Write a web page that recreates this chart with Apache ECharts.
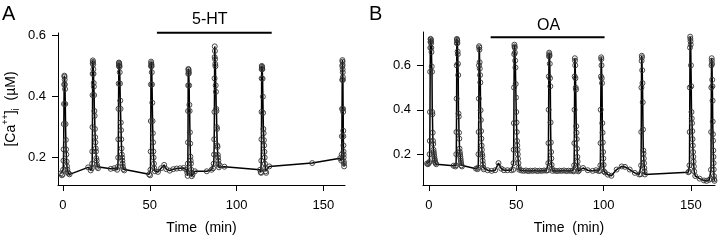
<!DOCTYPE html>
<html>
<head>
<meta charset="utf-8">
<script src="https://cdn.jsdelivr.net/npm/echarts@6/dist/echarts.min.js"></script>
<style>
  html, body { margin: 0; padding: 0; background: #fff; }
  #main { width: 720px; height: 240px; }
</style>
</head>
<body>
<div id="main"></div>
<script>
// [time (min), Ca (uM)]
var traceA = [
  [-1.2,0.148],[-0.6,0.142],[-0.2,0.145],[0.1,0.16],[0.3,0.19],[0.4,0.227],[0.5,0.31],[0.6,0.376],[0.7,0.44],[0.8,0.469],[0.9,0.465],[1.0,0.456],[1.1,0.44],[1.2,0.425],[1.35,0.376],[1.5,0.31],[1.65,0.258],[1.8,0.227],[1.95,0.21],[2.1,0.187],[2.3,0.172],[2.5,0.161],[2.8,0.152],[3.2,0.148],[3.8,0.145],
  [14.5,0.168],[16.0,0.158],
  [16.6,0.165],[16.8,0.18],[16.9,0.22],[17.0,0.3],[17.05,0.405],[17.1,0.475],[17.15,0.51],[17.2,0.519],[17.3,0.514],[17.4,0.505],[17.5,0.49],[17.6,0.475],[17.7,0.445],[17.8,0.433],[17.95,0.405],[18.1,0.353],[18.25,0.337],[18.4,0.294],[18.55,0.267],[18.7,0.25],[18.85,0.23],[19.0,0.22],[19.2,0.198],[19.4,0.19],[19.6,0.177],[19.8,0.17],[20.2,0.165],
  [27.5,0.163],[29.5,0.165],
  [31.2,0.16],[31.6,0.17],[31.8,0.2],[31.9,0.26],[32.0,0.36],[32.1,0.443],[32.2,0.5],[32.25,0.512],[32.3,0.51],[32.4,0.507],[32.5,0.503],[32.6,0.498],[32.7,0.48],[32.85,0.443],[33.0,0.387],[33.15,0.36],[33.3,0.315],[33.45,0.29],[33.6,0.26],[33.75,0.23],[33.9,0.21],[34.05,0.2],[34.2,0.19],[34.35,0.18],[34.5,0.17],[34.8,0.162],[35.3,0.158],
  [49.6,0.145],[50.2,0.142],
  [50.4,0.16],[50.5,0.22],[50.6,0.32],[50.65,0.44],[50.7,0.5],[50.75,0.515],[50.85,0.51],[50.95,0.505],[51.05,0.5],[51.15,0.48],[51.3,0.44],[51.45,0.38],[51.6,0.32],[51.75,0.28],[51.9,0.25],[52.05,0.22],[52.2,0.2],[52.4,0.18],[52.6,0.165],[53.0,0.155],
  [54.7,0.153],[56.5,0.165],[58.3,0.176],[59.5,0.162],[61.5,0.157],[63.5,0.162],[65.5,0.164],[67.5,0.165],[69.5,0.166],[71.0,0.16],
  [71.6,0.15],[71.8,0.14],[71.9,0.18],[72.0,0.25],[72.05,0.353],[72.1,0.437],[72.15,0.475],[72.2,0.491],[72.3,0.488],[72.4,0.483],[72.5,0.477],[72.65,0.437],[72.8,0.373],[72.95,0.353],[73.1,0.283],[73.25,0.246],[73.4,0.203],[73.55,0.19],[73.7,0.18],[73.85,0.16],[74.0,0.15],[74.2,0.139],[74.6,0.145],[76.0,0.155],
  [82.8,0.155],[85.6,0.16],
  [86.5,0.165],[86.8,0.18],[87.0,0.21],[87.1,0.26],[87.2,0.35],[87.3,0.46],[87.35,0.53],[87.4,0.565],[87.5,0.55],[87.6,0.523],[87.7,0.507],[87.8,0.5],[87.95,0.437],[88.1,0.416],[88.25,0.36],[88.4,0.353],[88.55,0.3],[88.7,0.294],[88.85,0.24],[89.0,0.235],[89.15,0.209],[89.3,0.2],[89.45,0.19],[89.6,0.179],[89.8,0.168],[90.3,0.174],[93.0,0.17],
  [113.5,0.16],
  [113.9,0.152],[114.1,0.15],[114.2,0.19],[114.3,0.26],[114.35,0.35],[114.4,0.46],[114.45,0.49],[114.5,0.501],[114.6,0.498],[114.7,0.494],[114.8,0.49],[114.95,0.459],[115.1,0.4],[115.25,0.347],[115.4,0.294],[115.55,0.28],[115.7,0.257],[115.85,0.24],[116.0,0.219],[116.15,0.2],[116.3,0.18],[116.5,0.166],[116.7,0.155],[117.0,0.15],[118.8,0.171],
  [143.5,0.182],[159.6,0.198],
  [160.3,0.19],[160.5,0.21],[160.6,0.27],[160.7,0.36],[160.8,0.455],[160.85,0.5],[160.9,0.52],[160.95,0.515],[161.0,0.505],[161.05,0.49],[161.1,0.48],[161.15,0.464],[161.2,0.455],[161.3,0.36],[161.35,0.35],[161.4,0.288],[161.45,0.27],[161.5,0.24],[161.55,0.22],[161.6,0.21],[161.65,0.2],[161.7,0.187],[161.8,0.18],[161.9,0.171]
];

// [time (min), Ca (uM)]
var traceB = [
  [-1.0,0.158],[-0.5,0.155],[0.0,0.16],[0.3,0.165],[0.5,0.2],[0.6,0.26],[0.7,0.39],[0.8,0.571],[0.9,0.679],[1.0,0.705],[1.05,0.719],[1.15,0.716],[1.25,0.71],[1.35,0.7],[1.45,0.679],[1.55,0.66],[1.7,0.595],[1.85,0.571],[2.0,0.39],[2.1,0.38],[2.25,0.297],[2.4,0.26],[2.55,0.246],[2.7,0.22],[2.85,0.21],[3.0,0.2],[3.15,0.19],[3.3,0.18],[3.45,0.174],[3.6,0.165],[3.9,0.16],[4.3,0.155],
  [14.2,0.148],
  [15.3,0.145],[15.6,0.15],[15.75,0.2],[15.85,0.3],[15.95,0.45],[16.0,0.6],[16.05,0.7],[16.1,0.719],[16.2,0.715],[16.3,0.71],[16.4,0.7],[16.5,0.662],[16.6,0.65],[16.7,0.607],[16.85,0.556],[17.0,0.383],[17.15,0.369],[17.3,0.297],[17.45,0.27],[17.6,0.225],[17.75,0.21],[17.9,0.2],[18.05,0.19],[18.2,0.18],[18.35,0.17],[18.5,0.16],[18.7,0.15],[19.0,0.145],
  [27.0,0.135],
  [28.0,0.133],[28.3,0.14],[28.45,0.2],[28.55,0.3],[28.65,0.45],[28.75,0.6],[28.8,0.686],[28.9,0.68],[29.0,0.67],[29.1,0.614],[29.2,0.585],[29.35,0.556],[29.5,0.523],[29.65,0.398],[29.8,0.354],[29.95,0.304],[30.1,0.27],[30.25,0.239],[30.4,0.22],[30.55,0.2],[30.7,0.19],[30.85,0.17],[31.0,0.155],[31.2,0.14],[31.5,0.132],
  [33.7,0.128],[36.0,0.125],[38.0,0.128],[39.9,0.16],[41.5,0.135],[43.0,0.128],[45.0,0.128],[47.2,0.128],
  [48.3,0.13],[48.5,0.16],[48.6,0.22],[48.7,0.34],[48.8,0.5],[48.9,0.65],[49.0,0.693],[49.1,0.685],[49.2,0.679],[49.3,0.657],[49.45,0.621],[49.6,0.59],[49.75,0.516],[49.9,0.455],[50.05,0.39],[50.2,0.343],[50.35,0.3],[50.5,0.26],[50.65,0.24],[50.8,0.22],[50.95,0.2],[51.1,0.18],[51.3,0.16],[51.5,0.14],[51.8,0.13],
  [53.0,0.127],[54.3,0.125],[55.6,0.127],[56.9,0.124],[58.2,0.126],[59.5,0.125],[60.8,0.127],[62.1,0.124],[63.4,0.126],[64.7,0.125],[66.0,0.127],[67.3,0.126],
  [68.2,0.128],[68.4,0.16],[68.5,0.25],[68.6,0.4],[68.7,0.55],[68.8,0.64],[68.9,0.657],[69.0,0.65],[69.1,0.643],[69.25,0.607],[69.4,0.542],[69.55,0.506],[69.7,0.343],[69.85,0.253],[70.0,0.21],[70.15,0.181],[70.3,0.152],[70.5,0.135],[70.8,0.125],
  [72.2,0.126],[73.5,0.124],[74.8,0.126],[76.1,0.125],[77.4,0.127],[78.7,0.124],[80.0,0.126],[81.3,0.125],[82.5,0.127],
  [83.0,0.123],[83.2,0.15],[83.3,0.25],[83.4,0.4],[83.5,0.55],[83.6,0.632],[83.7,0.621],[83.8,0.6],[83.95,0.542],[84.1,0.499],[84.25,0.491],[84.4,0.326],[84.55,0.297],[84.7,0.268],[84.85,0.225],[85.0,0.188],[85.15,0.167],[85.3,0.145],[85.5,0.123],[86.0,0.127],
  [88.3,0.138],[91.0,0.128],[93.8,0.125],[95.7,0.128],[97.3,0.124],
  [98.0,0.126],[98.2,0.15],[98.3,0.25],[98.4,0.4],[98.55,0.55],[98.65,0.636],[98.75,0.628],[98.85,0.6],[99.0,0.542],[99.15,0.52],[99.3,0.34],[99.45,0.297],[99.6,0.253],[99.75,0.21],[99.9,0.181],[100.05,0.152],[100.25,0.123],[100.8,0.118],
  [102.5,0.108],[104.5,0.103],[107.5,0.131],[110.4,0.145],[112.3,0.143],[115.0,0.131],[117.9,0.116],[120.4,0.109],
  [121.3,0.11],[121.5,0.15],[121.6,0.3],[121.7,0.5],[121.8,0.62],[121.9,0.643],[122.0,0.636],[122.15,0.578],[122.3,0.52],[122.45,0.434],[122.6,0.311],[122.75,0.217],[122.9,0.203],[123.05,0.181],[123.2,0.16],[123.35,0.138],[123.5,0.123],[123.7,0.109],
  [148.5,0.119],
  [149.0,0.122],[149.2,0.15],[149.3,0.3],[149.4,0.5],[149.5,0.68],[149.6,0.729],[149.7,0.719],[149.8,0.708],[149.9,0.693],[150.05,0.6],[150.2,0.506],[150.35,0.39],[150.5,0.361],[150.65,0.34],[150.8,0.304],[150.95,0.268],[151.1,0.239],[151.25,0.21],[151.4,0.188],[151.55,0.167],[151.7,0.145],[151.9,0.123],
  [152.5,0.102],[155.0,0.09],[157.5,0.082],[159.0,0.08],[160.5,0.085],
  [161.3,0.09],[161.5,0.13],[161.6,0.3],[161.7,0.5],[161.8,0.6],[161.9,0.632],[162.0,0.621],[162.1,0.607],[162.2,0.535],[162.3,0.506],[162.4,0.441],[162.5,0.347],[162.6,0.29],[162.7,0.261],[162.8,0.217],[162.9,0.188],[163.0,0.16],[163.1,0.131],[163.2,0.102],[163.3,0.087],[163.5,0.08]
];

// drug application bars: [start, end] in min, and the level they are drawn at
var barA = [54.1, 120.2], barLevelA = 0.61;
var barB = [35.4, 100.6], barLevelB = 0.726;

var timeTicks = [0, 50, 100, 150];
var caTicks = [0.2, 0.4, 0.6];

var FONT = '"Liberation Sans", Arial, sans-serif';
var myChart = echarts.init(document.getElementById('main'));

function xAx(idx, min, max) {
  return {
    type: 'value', gridIndex: idx, min: min, max: max,
    name: 'Time  (min)', nameLocation: 'middle', nameGap: 36,
    nameTextStyle: { fontFamily: FONT, fontSize: 14, color: '#000' },
    axisLine: { onZero: false, lineStyle: { color: '#000', width: 1 } },
    axisTick: { customValues: timeTicks, length: 6, lineStyle: { color: '#000' } },
    axisLabel: { customValues: timeTicks, margin: 14, fontFamily: FONT, fontSize: 13, color: '#000' },
    splitLine: { show: false }
  };
}
function yAx(idx, min, max, withName) {
  var ax = {
    type: 'value', gridIndex: idx, min: min, max: max,
    axisLine: { show: true, onZero: false, lineStyle: { color: '#000', width: 1 } },
    axisTick: { show: true, customValues: caTicks, length: 6, lineStyle: { color: '#000' } },
    axisLabel: { customValues: caTicks, margin: 12, fontFamily: FONT, fontSize: 13, color: '#000',
      formatter: function (v) { return v.toFixed(1); } },
    splitLine: { show: false }
  };
  if (withName) {
    ax.name = '[Ca{sup|++}]{sub|i}  (\u00b5M)';
    ax.nameLocation = 'middle';
    ax.nameGap = 37;
    ax.nameTextStyle = {
      fontFamily: FONT, fontSize: 14, color: '#000', lineHeight: 20,
      rich: {
        sup: { fontFamily: FONT, fontSize: 9, lineHeight: 9, verticalAlign: 'top', color: '#000' },
        sub: { fontFamily: FONT, fontSize: 10, lineHeight: 10, verticalAlign: 'bottom', color: '#000' }
      }
    };
  }
  return ax;
}
function trace(idx, data) {
  return {
    type: 'line', xAxisIndex: idx, yAxisIndex: idx, data: data,
    symbol: 'circle', symbolSize: 5, showAllSymbol: true, clip: false,
    lineStyle: { color: '#000', width: 1.5 },
    itemStyle: { color: 'rgba(0,0,0,0)', borderColor: '#333', borderWidth: 0.9 },
    emphasis: { disabled: true }, z: 3
  };
}
function bar(idx, span, level) {
  return {
    type: 'line', xAxisIndex: idx, yAxisIndex: idx, symbol: 'none', clip: false,
    data: [[span[0], level], [span[1], level]],
    lineStyle: { color: '#000', width: 2 }
  };
}

myChart.setOption({
  animation: false,
  backgroundColor: '#fff',
  grid: [
    { left: 55, right: 375, top: 33, bottom: 51 },
    { left: 423, right: 5, top: 32, bottom: 49 }
  ],
  xAxis: [xAx(0, -2.85, 162.4), xAx(1, -3.3, 163.8)],
  yAxis: [yAx(0, 0.11, 0.609, true), yAx(1, 0.0615, 0.75, false)],
  series: [
    trace(0, traceA), bar(0, barA, barLevelA),
    trace(1, traceB), bar(1, barB, barLevelB)
  ],
  graphic: [
    { type: 'text', left: 2, top: 4, style: { text: 'A', font: '20px ' + FONT, fill: '#000' } },
    { type: 'text', left: 369, top: 4, style: { text: 'B', font: '20px ' + FONT, fill: '#000' } },
    { type: 'text', left: 192, top: 12, style: { text: '5-HT', font: '16px ' + FONT, fill: '#000' } },
    { type: 'text', left: 537, top: 18, style: { text: 'OA', font: '16px ' + FONT, fill: '#000' } }
  ]
});
</script>
</body>
</html>
